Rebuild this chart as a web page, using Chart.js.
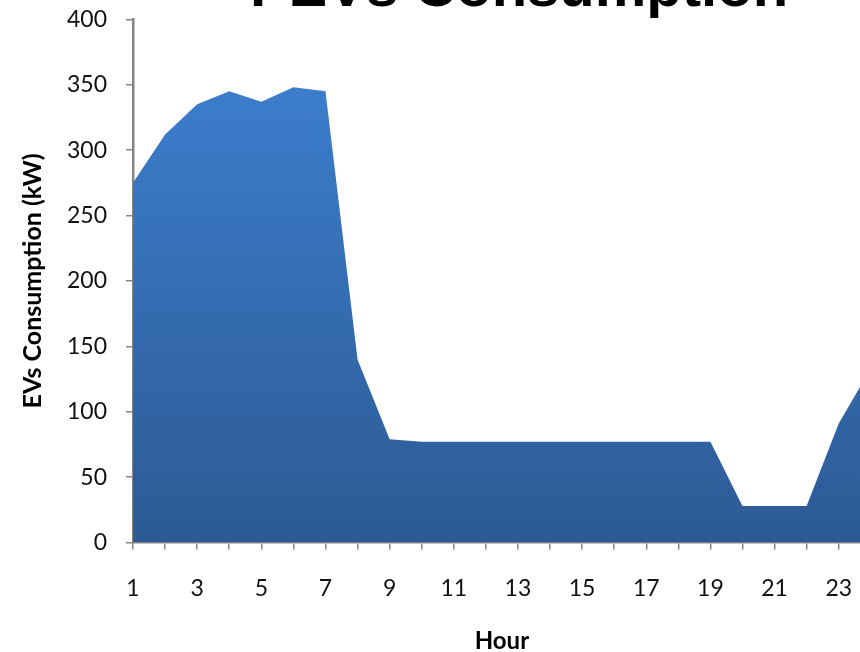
<!DOCTYPE html>
<html>
<head>
<meta charset="utf-8">
<title>PEVs Consumption</title>
<script src="https://cdn.jsdelivr.net/npm/chart.js@4.4.1/dist/chart.umd.min.js"></script>
<style>
  html, body { margin: 0; padding: 0; background: #ffffff; overflow: hidden; width: 860px; height: 652px; }
  #wrap { position: absolute; left: 0; top: -80px; width: 900px; height: 732px; }
</style>
</head>
<body>
<div id="wrap"><canvas id="chart" width="900" height="732"></canvas></div>
<script>
// Hourly consumption of plug-in electric vehicles (kW)
const hours = [1, 2, 3, 4, 5, 6, 7, 8, 9, 10, 11, 12, 13, 14, 15, 16, 17, 18, 19, 20, 21, 22, 23, 24];
const consumption = [275, 312, 335, 345, 337, 348, 345, 140, 79, 77, 77, 77, 77, 77, 77, 77, 77, 77, 77, 28, 28, 28, 91, 133];
const yTicks = [0, 50, 100, 150, 200, 250, 300, 350, 400];

const chartTitle = 'PEVs Consumption';
const xTitle = 'Hour';
const yTitle = 'EVs Consumption (kW)';

const axisGrey = '#868686';
const labelFont = { family: 'Lato', size: 23 };

// Titles drawn directly on the canvas around the plot area
const titlesPlugin = {
  id: 'titles',
  afterDraw(chart) {
    const { ctx, chartArea } = chart;
    ctx.save();
    ctx.fillStyle = '#000000';
    ctx.textAlign = 'center';
    ctx.textBaseline = 'alphabetic';

    ctx.font = 'bold 58px "Liberation Sans", Arial, sans-serif';
    ctx.fillText(chartTitle, 519, chartArea.top - 13);

    ctx.font = 'bold 24px Lato, sans-serif';
    ctx.fillText(xTitle, (chartArea.left + chartArea.right) / 2, chartArea.bottom + 106);

    // vertical title, centred on the plot area
    ctx.font = 'bold 25px Lato, sans-serif';
    ctx.translate(41, (chartArea.top + chartArea.bottom) / 2);
    ctx.rotate(-Math.PI / 2);
    ctx.fillText(yTitle, 0, 0);
    ctx.restore();
  }
};

const ctx = document.getElementById('chart').getContext('2d');

new Chart(ctx, {
  type: 'line',
  data: {
    labels: hours,
    datasets: [{
      data: consumption,
      fill: 'origin',
      borderWidth: 0,
      pointRadius: 0,
      tension: 0,
      backgroundColor(context) {
        const area = context.chart.chartArea;
        if (!area) return '#3470b5';
        const g = context.chart.ctx.createLinearGradient(0, area.top + 60, 0, area.bottom);
        g.addColorStop(0, '#3c7ecd');
        g.addColorStop(1, '#2d5a94');
        return g;
      }
    }]
  },
  options: {
    responsive: false,
    devicePixelRatio: 1,
    animation: false,
    layout: { padding: { top: 99.3, right: 29.2, left: 0, bottom: 0 } },
    plugins: {
      legend: { display: false },
      title: { display: false },
      tooltip: { enabled: false }
    },
    scales: {
      x: {
        type: 'category',
        offset: false,
        afterFit(scale) { scale.height = 109.5; },
        grid: {
          display: true,
          drawOnChartArea: false,
          drawTicks: true,
          tickLength: 7,
          color: axisGrey,
          lineWidth: 1.5
        },
        border: { display: true, color: axisGrey, width: 2.5 },
        ticks: {
          autoSkip: false,
          maxRotation: 0,
          padding: 25,
          color: '#111111',
          font: labelFont,
          callback(value, index) {
            const h = hours[index];
            return h % 2 === 1 ? String(h) : '';
          }
        }
      },
      y: {
        min: 0,
        max: 400,
        afterFit(scale) { scale.width = 133; },
        afterBuildTicks(scale) { scale.ticks = yTicks.map(v => ({ value: v })); },
        grid: {
          display: true,
          drawOnChartArea: false,
          drawTicks: true,
          tickLength: 7,
          color: axisGrey,
          lineWidth: 1.5
        },
        border: { display: true, color: axisGrey, width: 2.5 },
        ticks: {
          padding: 19,
          color: '#111111',
          font: labelFont
        }
      }
    }
  },
  plugins: [titlesPlugin]
});
</script>
</body>
</html>
